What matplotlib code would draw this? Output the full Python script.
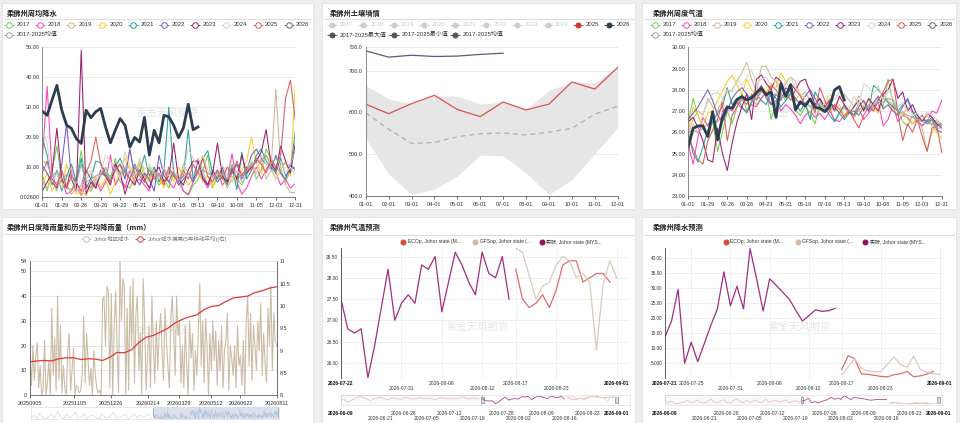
import numpy as np
import pandas as pd
import matplotlib
matplotlib.use("Agg")
import matplotlib.pyplot as plt
from matplotlib.patches import Rectangle

plt.rcParams['font.family'] = ['Liberation Sans', 'Noto Sans CJK SC', 'DejaVu Sans']

# ---------------- data ----------------
WEEK_LABELS = ['01-01', '01-29', '02-26', '03-26', '04-23', '05-21', '06-18',
               '07-16', '08-13', '09-10', '10-08', '11-05', '12-03', '12-31']
YEARS = ['2017', '2018', '2019', '2020', '2021', '2022', '2023', '2024', '2025']

# weekly rainfall (mm)
rain17 = [7.5, 2.0, 9.0, 17.0, 5.0, 3.0, 2.5, 6.0, 15.5, 4.0,
          2.0, 5.0, 7.0, 9.5, 6.0, 13.0, 5.0, 4.0, 3.0, 6.5,
          8.0, 5.0, 10.0, 7.0, 4.0, 6.0, 3.0, 8.0, 5.0, 2.0,
          0.5, 4.0, 6.0, 9.0, 14.0, 3.0, 7.0, 9.0, 5.0, 11.0,
          6.0, 4.0, 8.0, 12.0, 6.0, 9.0, 16.0, 13.0, 10.0, 8.0,
          5.0, 9.0, 10.0]
rain18 = [12.0, 37.0, 8.0, 3.0, 6.0, 1.0, 2.0, 5.0, 0.5, 4.0,
          3.0, 6.0, 2.0, 5.0, 14.0, 4.0, 7.0, 3.0, 9.0, 5.0,
          6.0, 4.0, 2.0, 8.0, 6.0, 9.0, 5.0, 3.0, 7.0, 2.0,
          1.0, 5.0, 8.0, 6.0, 3.0, 7.0, 9.0, 4.0, 6.0, 14.5,
          5.0, 1.0, 3.0, 7.0, 10.0, 6.0, 9.0, 12.0, 8.0, 4.0,
          6.0, 3.0, 4.5]
rain19 = [5.0, 3.0, 6.0, 2.0, 9.0, 4.0, 1.0, 3.0, 0.5, 6.0,
          8.0, 4.0, 7.0, 10.0, 5.0, 12.0, 6.0, 9.0, 16.0, 7.0,
          12.0, 8.0, 5.0, 10.0, 6.0, 4.0, 9.0, 7.0, 5.0, 11.0,
          8.0, 6.0, 13.0, 9.0, 4.0, 7.0, 5.0, 8.0, 3.0, 6.0,
          9.0, 5.0, 7.0, 11.0, 8.0, 13.0, 6.0, 9.0, 36.0, 10.0,
          4.0, 1.5, 1.5]
rain20 = [4.0, 8.0, 2.0, 5.0, 3.0, 11.0, 6.0, 1.0, 2.0, 0.5,
          4.0, 7.0, 3.0, 6.0, 1.0, 5.0, 8.0, 13.0, 9.0, 4.0,
          11.0, 7.0, 5.0, 9.0, 6.0, 3.0, 8.0, 5.0, 10.0, 7.0,
          4.0, 6.0, 9.0, 5.0, 7.0, 3.0, 8.0, 6.0, 4.0, 7.0,
          5.0, 9.0, 12.0, 20.0, 11.0, 8.0, 14.0, 10.0, 6.0, 9.0,
          12.0, 7.0, 38.0]
rain21 = [20.0, 14.0, 4.0, 9.0, 2.0, 7.0, 11.0, 5.0, 13.0, 3.0,
          6.0, 12.0, 11.5, 8.0, 5.0, 10.0, 13.0, 9.0, 6.0, 11.0,
          8.0, 14.0, 7.0, 10.0, 5.0, 9.0, 30.0, 8.0, 5.0, 7.0,
          22.5, 6.0, 9.0, 13.0, 15.5, 8.0, 5.0, 7.0, 4.0, 10.0,
          2.5, 15.0, 6.0, 9.0, 14.0, 16.0, 12.0, 10.0, 8.0, 13.0,
          7.0, 9.0, 22.0]
rain22 = [10.5, 8.0, 5.0, 3.0, 11.0, 24.5, 6.0, 2.0, 4.0, 9.0,
          6.0, 3.0, 8.0, 7.0, 5.0, 9.0, 11.0, 6.0, 16.0, 7.0,
          4.0, 8.0, 6.0, 2.0, 14.0, 7.0, 5.0, 9.0, 4.0, 6.0,
          8.0, 5.0, 12.0, 7.0, 4.0, 9.0, 6.0, 10.0, 5.0, 8.0,
          11.0, 6.0, 9.0, 14.0, 16.0, 13.0, 11.0, 9.0, 14.0, 8.0,
          6.0, 11.0, 9.0]
rain23 = [2.0, 5.0, 8.0, 23.0, 6.0, 3.0, 10.0, 2.0, 49.0, 1.0,
          5.0, 3.0, 9.0, 7.0, 4.0, 11.0, 8.0, 1.0, 6.0, 4.0,
          9.0, 6.0, 3.0, 8.0, 10.0, 5.0, 7.0, 18.0, 6.0, 4.0,
          9.0, 12.0, 12.0, 6.0, 4.0, 8.0, 18.0, 7.0, 5.0, 9.0,
          6.0, 14.0, 8.0, 10.0, 12.0, 15.0, 22.5, 11.0, 9.0, 17.0,
          12.0, 8.0, 18.0]
rain24 = [23.0, 18.0, 5.0, 8.0, 3.0, 6.0, 10.0, 2.0, 4.0, 7.0,
          9.0, 5.0, 8.0, 14.0, 12.0, 9.0, 6.0, 15.0, 10.0, 7.0,
          13.0, 9.0, 11.0, 8.0, 6.0, 10.0, 7.0, 9.0, 5.0, 8.0,
          16.0, 13.0, 10.0, 14.0, 9.0, 6.0, 8.0, 11.0, 7.0, 5.0,
          9.0, 7.0, 10.0, 12.0, 8.0, 14.0, 11.0, 9.0, 6.0, 12.0,
          8.0, 10.0, 7.0]
rain25 = [8.0, 12.0, 6.0, 4.0, 9.0, 3.0, 7.0, 5.0, 2.0, 8.0,
          12.0, 20.0, 11.0, 7.0, 5.0, 9.0, 11.0, 8.0, 6.0, 10.0,
          7.0, 5.0, 9.0, 6.0, 8.0, 4.0, 10.0, 7.0, 5.0, 9.0,
          6.0, 11.0, 8.0, 13.0, 7.0, 5.0, 9.0, 6.0, 10.0, 8.0,
          12.0, 7.0, 10.0, 9.0, 13.0, 11.0, 8.0, 12.0, 10.0, 14.0,
          33.0, 39.0, 25.5]
rain26 = [28.7, 27.3, 32.4, 37.3, 29.0, 24.0, 22.9, 19.5, 17.9, 29.0,
          26.5, 28.5, 29.6, 23.4, 18.1, 22.3, 26.2, 24.0, 16.7, 19.9,
          18.4, 26.6, 14.0, 22.3, 18.1, 27.3, 26.8, 24.0, 19.8, 23.1,
          31.0, 22.5, 23.4]
rain_mean = [12.0, 11.0, 7.0, 8.5, 6.0, 7.5, 6.0, 4.5, 11.0, 5.0,
             6.0, 7.0, 8.0, 8.0, 7.0, 9.5, 8.0, 8.0, 8.5, 7.0,
             8.5, 7.0, 6.5, 8.5, 7.0, 7.0, 9.0, 8.0, 6.0, 7.0,
             8.0, 7.0, 9.0, 9.0, 8.0, 7.0, 8.0, 7.5, 6.0, 8.0,
             7.0, 8.0, 8.5, 11.0, 11.5, 12.0, 14.0, 11.0, 13.0, 11.0,
             11.0, 10.5, 16.0]

# weekly temperature (C)
temp17 = [26.5, 27.6, 26.8, 26.2, 25.8, 26.5, 25.1, 26.0, 27.0, 26.4,
          27.2, 27.8, 27.0, 27.5, 27.3, 27.6, 27.9, 26.6, 27.4, 27.8,
          27.5, 27.9, 27.0, 26.8, 27.2, 26.9, 26.4, 27.3, 27.0, 27.2,
          26.5, 26.9, 27.2, 27.0, 26.8, 27.4, 27.1, 27.3, 27.0, 27.6,
          27.2, 28.5, 27.4, 27.0, 26.5, 26.3, 26.8, 26.5, 26.3, 26.6,
          26.4, 26.6, 26.3]
temp18 = [25.4, 24.5, 25.8, 26.7, 26.3, 26.8, 25.6, 27.0, 27.2, 27.0,
          27.4, 27.1, 27.0, 27.3, 27.2, 27.6, 27.9, 27.3, 27.5, 27.0,
          27.3, 27.1, 26.8, 26.4, 26.8, 27.0, 26.7, 26.9, 26.6, 27.0,
          26.6, 26.5, 26.8, 27.0, 26.7, 27.1, 26.6, 26.9, 27.2, 27.4,
          26.3, 26.6, 27.3, 26.5, 26.8, 26.7, 26.4, 26.6, 26.3, 26.5,
          27.0, 26.9, 27.5]
temp19 = [26.0, 26.6, 27.0, 26.8, 27.6, 27.2, 27.0, 27.5, 27.9, 28.0,
          28.4, 28.8, 29.3, 28.5, 27.9, 29.1, 29.1, 28.6, 28.4, 27.8,
          28.3, 28.6, 28.4, 27.7, 27.9, 27.5, 27.2, 27.6, 27.0, 27.4,
          27.2, 27.6, 27.8, 27.5, 27.2, 27.7, 27.4, 27.0, 27.3, 27.6,
          27.8, 27.5, 27.3, 27.0, 26.8, 27.2, 26.9, 26.6, 26.2, 25.1,
          26.0, 26.5, 26.3]
temp20 = [26.1, 27.2, 26.8, 26.3, 26.9, 27.0, 27.5, 27.9, 28.4, 28.7,
          28.2, 27.8, 28.5, 28.0, 27.6, 28.2, 27.9, 28.3, 28.1, 28.8,
          28.4, 28.0, 27.5, 27.8, 27.2, 26.9, 27.4, 27.0, 27.3, 27.6,
          27.0, 27.3, 26.8, 27.1, 26.7, 27.0, 27.3, 27.5, 27.2, 26.9,
          27.6, 27.4, 27.1, 26.8, 27.0, 26.6, 26.4, 26.7, 26.5, 26.8,
          26.3, 26.0, 25.7]
temp21 = [26.0, 25.0, 24.6, 25.3, 26.1, 26.5, 26.9, 27.2, 28.1, 27.3,
          27.6, 27.2, 26.9, 27.4, 27.8, 27.5, 27.3, 27.9, 27.6, 27.2,
          27.5, 27.8, 27.3, 27.0, 27.4, 26.6, 27.9, 27.5, 27.2, 26.8,
          26.5, 26.9, 26.6, 26.9, 27.0, 26.8, 27.2, 27.0, 28.2, 28.0,
          27.7, 27.4, 27.2, 27.0, 27.3, 27.5, 27.0, 26.8, 26.6, 26.5,
          26.7, 26.3, 26.4]
temp22 = [26.6, 26.9, 27.2, 27.6, 28.0, 27.5, 26.8, 26.5, 27.0, 27.6,
          27.9, 28.1, 27.8, 27.5, 27.9, 28.2, 27.6, 27.3, 27.8, 27.5,
          28.1, 27.9, 27.6, 27.3, 27.7, 28.0, 27.6, 27.2, 27.0, 27.4,
          27.2, 26.9, 27.3, 27.0, 26.8, 27.2, 27.5, 27.0, 27.4, 27.7,
          27.1, 27.3, 27.0, 26.8, 27.2, 27.6, 27.0, 26.6, 26.8, 26.4,
          26.6, 26.1, 26.0]
temp23 = [26.5, 26.7, 26.2, 25.6, 24.7, 24.6, 26.2, 25.0, 24.2, 25.5,
          26.5, 27.2, 27.8, 26.6, 28.5, 28.7, 28.3, 28.0, 28.6, 28.4,
          27.8, 28.3, 28.0, 28.4, 28.5, 27.9, 27.3, 27.6, 27.2, 27.5,
          27.0, 27.7, 27.3, 26.9, 27.2, 27.5, 27.0, 27.6, 27.3, 27.0,
          27.8, 28.0, 28.5, 27.6, 27.9, 27.0, 27.3, 26.8, 26.5, 26.9,
          26.7, 26.4, 26.2]
temp24 = [25.8, 26.4, 26.0, 26.9, 27.4, 27.8, 27.9, 27.6, 28.0, 27.9,
          28.5, 28.2, 28.6, 28.9, 28.3, 28.5, 28.6, 28.2, 28.5, 28.0,
          28.4, 28.6, 28.1, 27.8, 27.6, 27.2, 27.5, 27.0, 27.4, 27.8,
          27.5, 27.9, 27.4, 27.1, 27.7, 27.3, 28.3, 28.1, 27.8, 28.2,
          27.5, 28.0, 27.6, 27.2, 27.4, 27.0, 26.8, 26.9, 26.6, 26.9,
          26.8, 26.6, 26.4]
temp25 = [25.9, 25.2, 24.7, 24.5, 25.6, 26.1, 26.6, 27.4, 25.6, 26.8,
          27.2, 27.6, 27.3, 27.8, 27.5, 28.0, 27.7, 28.2, 28.0, 27.6,
          27.9, 27.5, 28.0, 27.7, 27.3, 27.6, 26.9, 28.1, 27.5, 27.0,
          27.3, 27.1, 26.7, 27.0, 26.6, 26.2, 26.8, 27.2, 27.0, 27.5,
          27.9, 28.4, 28.5, 26.9, 25.6, 26.4, 26.0, 26.6, 25.8, 25.1,
          26.2, 26.3, 25.05]
temp26 = [25.32, 26.19, 26.30, 26.30, 25.80, 26.97, 25.64, 26.66, 27.20, 27.13,
          27.55, 27.68, 27.52, 27.63, 27.86, 28.07, 27.76, 27.91, 26.70, 28.30,
          27.68, 28.23, 27.05, 27.44, 27.24, 27.57, 27.17, 27.13, 26.97, 27.20,
          27.99, 28.15, 27.52]
temp_mean = [26.0, 26.1, 26.0, 26.2, 26.4, 26.5, 26.5, 26.8, 27.0, 27.1,
             27.4, 27.5, 27.6, 27.5, 27.6, 27.9, 27.8, 27.7, 27.8, 27.6,
             27.8, 27.8, 27.5, 27.4, 27.4, 27.2, 27.2, 27.4, 27.1, 27.2,
             27.0, 27.1, 27.1, 27.0, 27.0, 27.1, 27.2, 27.2, 27.3, 27.4,
             27.4, 27.6, 27.5, 27.0, 26.9, 26.8, 26.7, 26.6, 26.5, 26.4,
             26.4, 26.2, 26.2]

# soil moisture, monthly
MONTHS = ['01-01', '02-01', '03-01', '04-01', '05-01', '06-01',
          '07-01', '08-01', '09-01', '10-01', '11-01', '12-01']
soil25 = [620, 597, 621, 641, 607, 590, 625, 606, 620, 673, 656, 708]
soil26 = [747.6, 732.5, 737, 734, 735, 739, 742]
soil_max = [664, 633, 621, 640, 639, 620, 625, 606, 653, 673, 671, 708]
soil_min = [538, 453, 404, 416, 448, 498, 496, 455, 404, 439, 501, 564]
soil_mean = [599, 560, 526, 528, 542, 549, 551, 546, 553, 562, 596, 615]

# daily rainfall, one value every 2 days from 2025-09-05
daily_rain = [15, 4, 20, 6, 16, 21, 3, 12, 0, 2, 22,
              0, 5, 14, 0, 35, 8, 23, 2, 40, 6,
              28, 1, 12, 3, 0, 18, 25, 2, 10, 19,
              0, 4, 3, 1, 2, 9, 32, 5, 25, 14,
              4, 11, 0, 18, 8, 3, 1, 2, 0, 38,
              40, 20, 44, 42, 3, 41, 0, 28, 42, 20,
              1, 54, 30, 47, 43, 0, 35, 2, 44, 20,
              47, 5, 33, 40, 10, 25, 0, 47, 30, 2,
              15, 28, 3, 40, 20, 5, 30, 10, 25, 33,
              18, 6, 35, 22, 12, 3, 30, 40, 26, 8,
              40, 24, 30, 5, 20, 3, 28, 12, 0, 30,
              15, 25, 2, 18, 8, 26, 45, 12, 30, 5,
              31, 20, 0, 25, 10, 30, 14, 26, 4, 22,
              10, 28, 3, 18, 22, 33, 2, 20, 15, 8,
              20, 3, 28, 12, 16, 4, 22, 0, 30, 40,
              12, 33, 6, 28, 20, 10, 30, 18, 37, 8,
              25, 13, 5, 35, 20, 44, 10, 33, 22, 20]
# 5-year moving average deviation (right axis), one value every 10 days
rain_ma = [8.75, 8.77, 8.78, 8.77, 8.82, 8.84, 8.84, 8.80, 8.82, 8.81,
           8.78, 8.85, 8.96, 8.95, 9.02, 9.18, 9.30, 9.34, 9.42, 9.50,
           9.62, 9.70, 9.76, 9.80, 9.92, 9.99, 10.01, 10.10, 10.18, 10.20,
           10.22, 10.30, 10.34, 10.40, 10.43]
# earlier rainfall for the zoom slider, every 8 days from 2024-10-07
hist_rain = [5, 18, 2, 30, 8, 0, 12, 25, 3, 40, 10, 1, 22, 6, 15, 35, 4, 9, 28, 2,
             14, 20, 7, 0, 26, 11, 5, 18, 32, 3, 9, 16, 24, 1, 12, 30, 6, 19, 8, 14,
             22, 4]
P4_TICKS = ['20250905', '20251105', '20251226', '20260214',
            '20260329', '20260512', '20260622', '20260811']

# forecasts
temp_actual = [27.50, 26.80, 26.70, 26.80, 25.65, 26.40, 27.30, 28.20, 27.00, 27.40,
               27.60, 27.40, 28.30, 28.20, 28.50, 27.20, 27.90, 28.60, 28.30, 27.90,
               27.60, 28.60, 28.10, 28.00, 28.50, 27.50]          # from 2026-07-22
temp_ec = [28.2, 27.5, 27.3, 27.4, 27.6, 27.3, 27.7, 28.3, 28.4, 28.4,
           27.9, 28.0, 28.1, 28.1, 27.9]                        # from 2026-08-17
temp_gfs = [28.7, 28.6, 28.05, 27.5, 27.8, 27.9, 28.3, 28.5, 28.4, 28.0,
            28.1, 27.9, 26.3, 27.85, 28.4, 28.0]                # from 2026-08-17
temp_early = [27.6, 27.2, 26.3, 26.8, 27.5, 28.1, 28.4, 27.9, 27.3, 26.9,
              27.4, 27.8, 28.0, 27.6, 27.2, 27.5, 27.9, 27.7, 27.3, 27.8,
              28.0, 27.6, 27.4, 27.7, 27.9, 27.5, 27.6, 27.8, 27.4, 27.3,
              27.7, 27.9, 27.6, 27.5, 27.8, 27.4, 27.6, 28.3, 27.7, 27.5,
              27.8, 27.6, 27.5]                                  # from 2026-06-09
prec_actual = [13.7, 19.0, 29.5, 5.0, 12.0, 5.5, 11.5, 17.5, 23.0, 35.3,
               24.0, 30.5, 23.0, 43.0, 33.0, 22.3, 33.0, 30.8, 28.5, 26.2,
               22.5, 19.0, 20.8, 22.7, 22.2, 22.4, 23.2]          # from 2026-07-21
prec_ec = [2.9, 7.5, 6.5, 1.5, 1.3, 1.0, 0.6, 0.5, 1.2, 1.5,
           2.3, 0.5, 0.8, 1.4, 2.3]                             # from 2026-08-17
prec_gfs = [1.2, 3.8, 6.5, 3.3, 2.5, 2.2, 2.2, 4.7, 7.0, 4.5,
            3.7, 7.3, 3.0, 2.0, 1.5, 1.3]                       # from 2026-08-17
prec_early = [3, 8, 14, 2, 0.5, 6, 11, 18, 5, 9,
              20, 7, 3, 12, 25, 10, 4, 15, 22, 8,
              2, 16, 28, 12, 5, 18, 9, 14, 20, 6,
              11, 24, 8, 15, 19, 10, 13, 21, 7, 12,
              16, 9, 11]                                         # from 2026-06-09

# ---------------- styles ----------------
YEAR_COLORS = ['#6fd34a', '#ff3fbf', '#cdb78f', '#ffc928', '#2aa0a0',
               '#6f5cc8', '#9e1a6e', '#ddd3c4', '#de5b5b']
CUR_COLOR = '#2c3e50'
MEAN_COLOR = '#a3a3a3'
EC_COLOR = '#e26a6a'
GFS_COLOR = '#d9cbb8'
ACT_COLOR = '#a32d7e'
TXT = '#333333'

W, H = 960, 423
fig = plt.figure(figsize=(9.6, 4.23), dpi=100, facecolor='#eeeeee')
bg = fig.add_axes([0, 0, 1, 1], zorder=0)
bg.set_xlim(0, W)
bg.set_ylim(H, 0)
bg.axis('off')


def px_axes(x0, y0, x1, y1):
    a = fig.add_axes([x0 / W, 1 - y1 / H, (x1 - x0) / W, (y1 - y0) / H], zorder=2)
    a.patch.set_alpha(0)
    return a


def card(x0, y0, x1, y1, title, tx, ty, uy):
    bg.add_patch(Rectangle((x0, y0), x1 - x0, y1 - y0, fc='white', ec='#e2e2e2', lw=0.6))
    bg.plot([x0 + 2, x1 - 2], [uy, uy], color='#dddddd', lw=0.8)
    bg.text(tx, ty, title, fontsize=5.2, fontweight='bold', color='#222222',
            va='center', ha='left', family=['Noto Sans CJK SC'])


def leg(x, y, label, color, kind='ring', tcolor=TXT, fs=4.3):
    if kind in ('ring', 'dotline'):
        bg.plot([x - 5, x + 5], [y, y], color=color, lw=0.7, solid_capstyle='butt')
    face = 'white' if kind == 'ring' else color
    bg.plot([x], [y], marker='o', ms=4.0 if kind == 'ring' else 3.6,
            mfc=face, mec=color, mew=0.7)
    dx = 7.5 if kind != 'dot' else 4.5
    bg.text(x + dx, y, label, fontsize=fs, color=tcolor, va='center', ha='left')


def watermark(x, y):
    bg.text(x, y, '紫金天风期货', fontsize=7.5, color='#e6e6e6', ha='center',
            va='center', family=['Noto Sans CJK SC'], zorder=5)


def base_style(ax, fs=4.0):
    for s in ['top', 'right']:
        ax.spines[s].set_visible(False)
    ax.spines['left'].set_color('#777777')
    ax.spines['bottom'].set_color('#666666')
    ax.spines['left'].set_linewidth(0.6)
    ax.spines['bottom'].set_linewidth(0.6)
    ax.tick_params(axis='both', labelsize=fs, colors=TXT, width=0.5)
    ax.tick_params(axis='y', length=0, pad=2)
    ax.tick_params(axis='x', length=2, pad=2)
    ax.grid(axis='y', color='#e8e8e8', lw=0.6)
    ax.set_axisbelow(True)


def weekly_panel(ax, series, cur, mean):
    weeks = np.arange(53)
    for vals, c in zip(series, YEAR_COLORS):
        ax.plot(weeks, vals, color=c, lw=0.75)
    ax.plot(weeks, mean, color=MEAN_COLOR, lw=0.75)
    ax.plot(np.arange(len(cur)), cur, color=CUR_COLOR, lw=2.0, solid_joinstyle='round')
    ax.set_xlim(0, 52)
    ax.set_xticks(np.arange(0, 53, 4))
    ax.set_xticklabels(WEEK_LABELS)
    base_style(ax)


def week_legend(x0, step):
    names = YEARS + ['2026']
    cols = YEAR_COLORS + ['#5a6b7c']
    for i, (n, c) in enumerate(zip(names, cols)):
        leg(x0 + i * step, 24.7, n, c)
    leg(x0, 34.7, '2017-2025均值', MEAN_COLOR)


# ---------------- cards ----------------
card(2, 3, 313, 209, '柔佛州周均降水', 6.7, 13.3, 19.3)
card(322, 3, 635, 209, '柔佛州土壤墒情', 330, 13.3, 19.3)
card(642, 3, 956, 209, '柔佛州周度气温', 652.7, 13.3, 19.3)
card(2, 217, 313, 423, '柔佛州日度降雨量和历史平均降雨量（mm）', 6.7, 227.7, 234.2)
card(322, 217, 635, 423, '柔佛州气温预测', 330, 227.7, 234.7)
card(642, 217, 956, 423, '柔佛州降水预测', 652.7, 227.7, 234.7)

# ---------------- panel 1: weekly rain ----------------
ax1 = px_axes(42.3, 47.3, 295.3, 197)
weekly_panel(ax1, [rain17, rain18, rain19, rain20, rain21, rain22, rain23, rain24, rain25],
             rain26, rain_mean)
ax1.set_ylim(0.026, 50)
ax1.set_yticks([0.026, 10, 20, 30, 40, 50])
ax1.set_yticklabels(['0.02600', '10.00', '20.00', '30.00', '40.00', '50.00'])
week_legend(8.7, 31.1)
watermark(168, 113)

# ---------------- panel 3: weekly temperature ----------------
ax3 = px_axes(688.3, 47.3, 941.7, 196)
weekly_panel(ax3, [temp17, temp18, temp19, temp20, temp21, temp22, temp23, temp24, temp25],
             temp26, temp_mean)
ax3.set_ylim(23, 30)
ax3.set_yticks(np.arange(23, 31))
ax3.set_yticklabels(['%.2f' % v for v in np.arange(23, 31)])
week_legend(655, 30.8)
watermark(800, 113)

# ---------------- panel 2: soil moisture ----------------
ax2 = px_axes(365.7, 47.3, 617.7, 196)
m = np.arange(len(MONTHS))
ax2.fill_between(m, soil_min, soil_max, color='#e6e6e6', lw=0)
ax2.plot(m, soil_mean, color='#b0b0b0', lw=0.9, dashes=(4, 3))
ax2.plot(m, soil25, color='#d9534f', lw=0.9)
ax2.plot(np.arange(len(soil26)), soil26, color='#4f6275', lw=0.9)
ax2.set_xlim(0, 11)
ax2.set_xticks(m)
ax2.set_xticklabels(MONTHS)
ax2.set_ylim(400, 756)
ax2.set_yticks([400, 500, 600, 700, 756])
ax2.set_yticklabels(['400.0', '500.0', '600.0', '700.0', '756.0'])
base_style(ax2)
for i, y in enumerate(YEARS[:8]):
    leg(332 + i * 30.8, 24.7, y, '#cccccc', kind='dotline', tcolor='#cccccc')
leg(332 + 8 * 30.8, 24.7, '2025', '#cc3333', kind='dotline')
leg(332 + 9 * 30.8, 24.7, '2026', '#2c3e50', kind='dotline')
for i, t in enumerate(['2017-2025最大值', '2017-2025最小值', '2017-2025均值']):
    leg(332 + i * 61.7, 34.7, t, '#555555', kind='dotline')
watermark(478, 113)

# ---------------- panel 4: daily rain ----------------
rain_dates = pd.date_range('2025-09-05', periods=len(daily_rain), freq='2D')
ma_dates = pd.date_range('2025-09-05', periods=len(rain_ma), freq='10D')
hist_dates = pd.date_range('2024-10-07', periods=len(hist_rain), freq='8D')

ax4 = px_axes(30, 261.3, 276.7, 395.3)
ax4.plot(rain_dates, daily_rain, color='#cbbca6', lw=0.8)
ax4.set_ylim(0, 54)
ax4.set_yticks([0, 10, 20, 30, 40, 50, 54])
ax4.set_xlim(rain_dates[0], rain_dates[-1])
tick_d = pd.to_datetime(P4_TICKS, format='%Y%m%d')
ax4.set_xticks(tick_d)
ax4.set_xticklabels(P4_TICKS)
base_style(ax4)
ax4.spines['left'].set_color('#555555')
ax4.grid(axis='y', color='#e2e2e2', lw=0.6)
ax4r = ax4.twinx()
ax4r.set_zorder(3)
ax4r.patch.set_alpha(0)
ax4r.plot(ma_dates, rain_ma, color='#d93b3b', lw=0.9)
ax4r.set_ylim(8, 11)
ax4r.set_yticks(np.arange(8, 11.01, 0.5))
ax4r.set_yticklabels(['8', '8.5', '9', '9.5', '10', '10.5', '11'])
for s in ['top', 'left']:
    ax4r.spines[s].set_visible(False)
ax4r.spines['right'].set_color('#555555')
ax4r.spines['right'].set_linewidth(0.6)
ax4r.spines['bottom'].set_visible(False)
ax4r.tick_params(axis='y', labelsize=4.0, colors=TXT, length=0, pad=2)
leg(86, 239.3, 'Johor地区降水', '#cbbca6', tcolor='#777777', fs=4.0)
leg(140, 239.3, 'Johor降水偏离(5年移动平均)(右)', '#d93b3b', tcolor='#777777', fs=4.0)
watermark(160, 330)

s4 = px_axes(31, 407, 279, 419)
s4.plot(hist_dates, hist_rain, color='#cfcfcf', lw=0.4)
s4.plot(rain_dates, daily_rain, color='#aebbd2', lw=0.4)
s4.set_xlim(hist_dates[0], rain_dates[-1])
s4.set_ylim(0, 60)
s4.axvspan(rain_dates[0], rain_dates[-1], color='#c9d5e9', alpha=0.7, lw=0)
for d in (rain_dates[0], rain_dates[-1]):
    s4.axvspan(d - pd.Timedelta(days=2), d + pd.Timedelta(days=2), ymin=0.1, ymax=0.9,
               color='#9fb2d1', lw=0)
s4.set_xticks([])
s4.set_yticks([])
for sp in s4.spines.values():
    sp.set_color('#dddddd')
    sp.set_linewidth(0.5)


# ---------------- panels 5 & 6: forecasts ----------------
def two_rows(ax, labels, rows, fs, p0, p1):
    d = pd.to_datetime(labels)
    ax.set_xticks(d)
    ax.set_xticklabels(labels)
    ax.tick_params(axis='x', labelsize=fs, colors=TXT, length=0)
    ticks = ax.xaxis.get_major_ticks()
    for i, (t, r) in enumerate(zip(ticks, rows)):
        t.set_pad(p1 if r else p0)
        if i == 0 or i == len(labels) - 1:
            t.label1.set_fontweight('bold')
            t.label1.set_color('#111111')


def forecast_panel(x0, x1, start_act, act, ec, gfs, early, xlim, ylim, yticks, ylabels,
                   labels, rows, slim, box_end):
    ax = px_axes(x0, 248, x1, 377.7)
    d_act = pd.date_range(start_act, periods=len(act))
    d_ec = pd.date_range('2026-08-17', periods=len(ec))
    d_gfs = pd.date_range('2026-08-17', periods=len(gfs))
    ax.plot(d_act, act, color=ACT_COLOR, lw=0.9)
    ax.plot(d_ec, ec, color=EC_COLOR, lw=0.9)
    ax.plot(d_gfs, gfs, color=GFS_COLOR, lw=0.9)
    ax.set_xlim(pd.Timestamp(xlim[0]), pd.Timestamp(xlim[1]))
    ax.set_ylim(*ylim)
    ax.set_yticks(yticks)
    ax.set_yticklabels(ylabels)
    for s in ['top', 'right', 'bottom']:
        ax.spines[s].set_visible(False)
    ax.spines['left'].set_color('#444444')
    ax.spines['left'].set_linewidth(0.6)
    ax.tick_params(axis='y', labelsize=3.4, colors=TXT, length=0, pad=2)
    ax.grid(True, color='#ececec', lw=0.6)
    ax.set_axisbelow(True)
    two_rows(ax, labels, rows, 3.6, 2.2, 6.2)

    s = px_axes(x0, 394.7, x1, 404.7)
    d_early = pd.date_range('2026-06-09', periods=len(early))
    s.plot(d_early, early, color='#e6b3d3', lw=0.5)
    s.plot(d_act, act, color='#b0478f', lw=0.6)
    s.plot(d_ec, ec, color='#eca3a3', lw=0.6)
    s.plot(d_gfs, gfs, color='#e2d7c8', lw=0.6)
    s.set_xlim(pd.Timestamp(slim[0]), pd.Timestamp(slim[1]))
    lo = min(min(early), min(act), min(ec), min(gfs))
    hi = max(max(early), max(act), max(ec), max(gfs))
    pad = (hi - lo) * 0.12
    s.set_ylim(lo - pad, hi + pad)
    s.set_yticks([])
    s.axvspan(pd.Timestamp(slim[0]), pd.Timestamp(box_end), fc='#f4f4f4', ec='#9a9a9a',
              lw=0.7, alpha=0.6)
    for h in (box_end, '2026-09-01'):
        hd = pd.Timestamp(h)
        s.axvspan(hd - pd.Timedelta(hours=10), hd + pd.Timedelta(hours=10), ymin=0.2, ymax=0.8,
                  fc='#dddddd', ec='#888888', lw=0.5)
    for sp in s.spines.values():
        sp.set_color('#e0e0e0')
        sp.set_linewidth(0.5)
    slabels = ['2026-06-09', '2026-06-21', '2026-06-28', '2026-07-05', '2026-07-12',
               '2026-07-19', '2026-07-28', '2026-08-02', '2026-08-09', '2026-08-16',
               '2026-08-23', '2026-09-01']
    two_rows(s, slabels, [0, 1, 0, 1, 0, 1, 0, 1, 0, 1, 0, 0], 3.6, 4.2, 8.0)
    return ax


forecast_panel(341, 630, '2026-07-22', temp_actual, temp_ec, temp_gfs, temp_early,
               ('2026-07-22', '2026-09-03'), (25.65, 28.7),
               [26.0, 26.5, 27.0, 27.5, 28.0, 28.5],
               ['26.00', '26.50', '27.00', '27.50', '28.00', '28.50'],
               ['2026-07-22', '2026-07-31', '2026-08-06', '2026-08-12', '2026-08-17',
                '2026-08-23', '2026-09-01'],
               [0, 1, 0, 1, 0, 1, 0], ('2026-06-09', '2026-09-05'), '2026-07-22')
forecast_panel(665, 942, '2026-07-21', prec_actual, prec_ec, prec_gfs, prec_early,
               ('2026-07-21', '2026-09-01 08:00'), (0.2, 43.2),
               [5, 10, 15, 20, 25, 30, 35, 40],
               ['5.000', '10.00', '15.00', '20.00', '25.00', '30.00', '35.00', '40.00'],
               ['2026-07-21', '2026-07-25', '2026-07-31', '2026-08-06', '2026-08-12',
                '2026-08-17', '2026-08-23', '2026-09-01'],
               [0, 0, 1, 0, 1, 0, 1, 0], ('2026-06-09', '2026-09-02'), '2026-07-21')

for x0 in (403, 726):
    leg(x0, 242, 'ECOp, Johor state (M...', '#d9473f', kind='dot', fs=3.6)
    leg(x0 + 72, 242, 'GFSop, Johor state (...', '#cdbba5', kind='dot', fs=3.6)
    leg(x0 + 139, 242, '实际, Johor state (MYS...', '#8e1459', kind='dot', fs=3.6)
watermark(478, 327)
watermark(800, 327)

fig.savefig('out.png', dpi=100, facecolor=fig.get_facecolor())
